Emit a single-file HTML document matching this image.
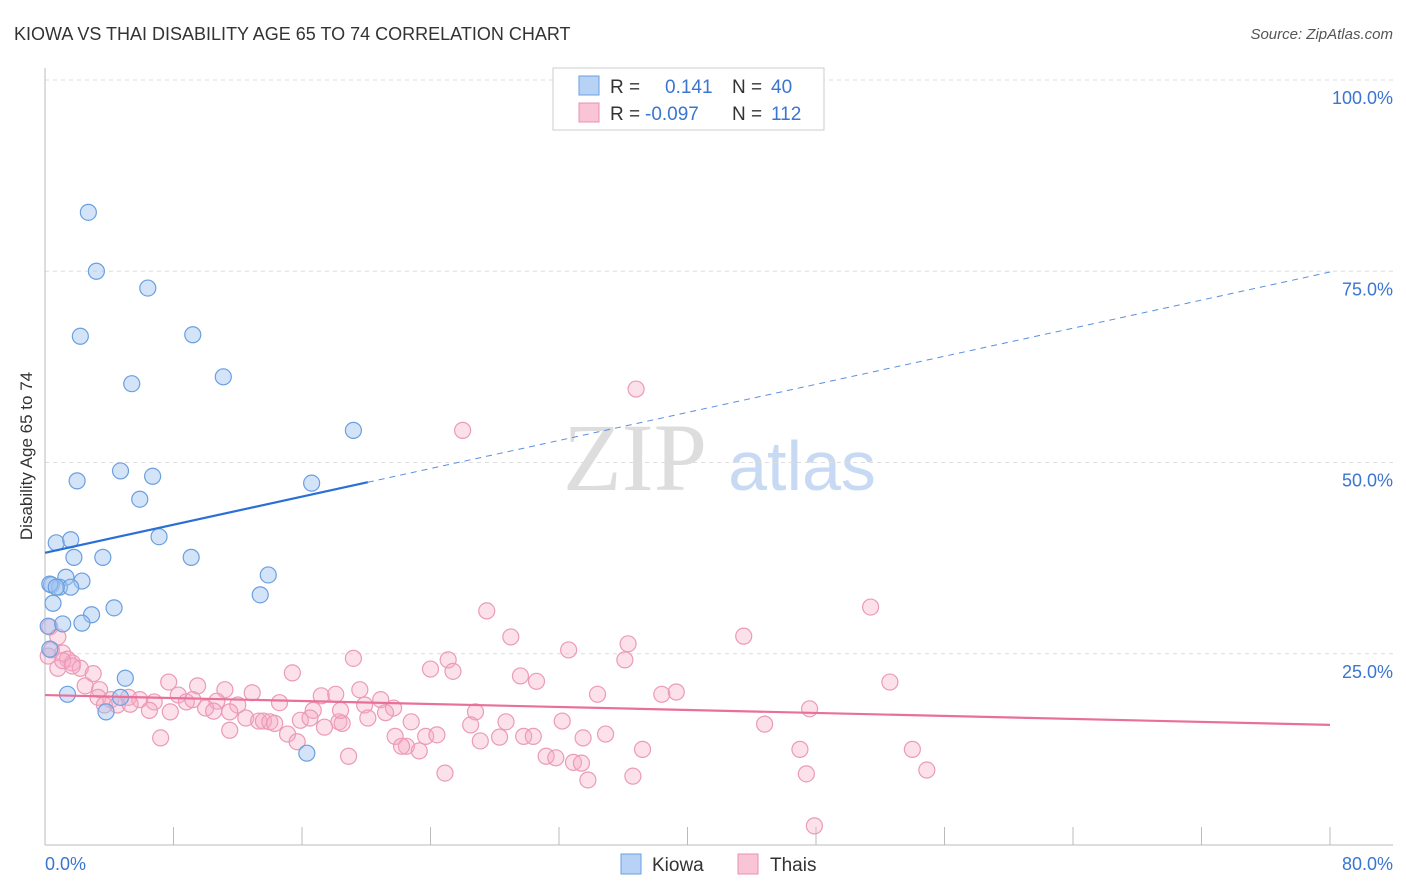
<!DOCTYPE html>
<html><head><meta charset="utf-8">
<style>
body{margin:0;background:#fff;font-family:"Liberation Sans",sans-serif;}
#wrap{position:relative;width:1406px;height:892px;overflow:hidden;}
</style></head>
<body>
<div id="wrap">
<svg id="chart" width="1406" height="892" xmlns="http://www.w3.org/2000/svg">
<text x="14" y="40" font-size="18" fill="#333">KIOWA VS THAI DISABILITY AGE 65 TO 74 CORRELATION CHART</text>
<text x="1393" y="39" font-size="15" fill="#555" font-style="italic" text-anchor="end">Source: ZipAtlas.com</text>
<text x="32" y="456" font-size="17" fill="#333" text-anchor="middle" transform="rotate(-90 32 456)">Disability Age 65 to 74</text>
<g>
<text x="635" y="490" font-size="96" font-family="Liberation Serif,serif" fill="#ddd" text-anchor="middle">ZIP</text>
<text x="802" y="490" font-size="70" fill="#c8daf3" text-anchor="middle">atlas</text>
</g>
<g id="grid"></g><g id="axes"></g><g id="pts"></g><g id="trends"></g>
<g>
<rect x="553" y="68" width="271" height="62" fill="#fff" stroke="#ccc"/>
<rect x="579" y="76" width="20" height="19" fill="#b8d2f5" stroke="#6a9fe0"/>
<rect x="579" y="103" width="20" height="19" fill="#f9c4d6" stroke="#e890b0"/>
<text x="610" y="93" font-size="19" fill="#333">R = </text><text x="665" y="93" font-size="19" fill="#3a75d0">0.141</text>
<text x="732" y="93" font-size="19" fill="#333">N = </text><text x="771" y="93" font-size="19" fill="#3a75d0">40</text>
<text x="610" y="120" font-size="19" fill="#333">R = </text><text x="645" y="120" font-size="19" fill="#3a75d0">-0.097</text>
<text x="732" y="120" font-size="19" fill="#333">N = </text><text x="771" y="120" font-size="19" fill="#3a75d0">112</text>
</g>
<g>
<rect x="621" y="854" width="20" height="20" fill="#b8d2f5" stroke="#6a9fe0"/>
<text x="652" y="871" font-size="19" fill="#333">Kiowa</text>
<rect x="738" y="854" width="20" height="20" fill="#f9c4d6" stroke="#e890b0"/>
<text x="770" y="871" font-size="19" fill="#333">Thais</text>
</g>
</svg>
</div>
<script>
const yTicks=[25,50,75,100];
const yTickLabels=["25.0%","50.0%","75.0%","100.0%"];
const xTicks=[0,8,16,24,32,40,48,56,64,72,80];
const kiowaX=[2.7,3.2,6.4,2.2,9.2,5.4,11.1,19.2,2.0,4.7,6.7,5.9,16.6,0.7,1.6,7.1,1.8,3.6,9.1,0.4,1.3,2.3,0.9,1.6,13.9,0.5,4.3,2.9,13.4,0.2,1.1,2.3,0.3,5.0,1.4,4.7,3.8,16.3,0.3,0.7];
const kiowaY=[82.7,75.0,72.8,66.5,66.7,60.3,61.2,54.2,47.6,48.9,48.2,45.2,47.3,39.5,39.9,40.3,37.6,37.6,37.6,34.0,35.0,34.5,33.7,33.7,35.3,31.6,31.0,30.1,32.7,28.6,28.9,29.0,25.6,21.8,19.7,19.3,17.4,12.0,34.1,33.7];
const thaiX=[36.8,26.0,51.4,27.5,43.5,29.0,32.6,36.3,0.3,0.8,0.4,1.1,1.4,0.2,1.7,2.2,3.0,0.8,2.5,3.4,1.1,1.7,19.2,25.1,24.0,25.4,36.1,15.4,29.6,30.6,9.5,7.7,8.3,11.2,12.9,17.2,18.1,19.6,20.9,34.4,38.4,39.3,47.6,52.6,3.3,4.1,5.2,5.9,6.8,8.8,10.7,12.0,14.6,16.7,19.9,21.7,3.7,4.5,5.3,6.5,7.8,10.0,10.5,11.5,12.5,13.3,13.6,14.0,14.3,15.9,16.5,18.3,20.1,21.2,22.8,26.8,28.7,32.2,44.8,7.2,11.5,15.1,15.7,17.4,18.5,21.8,22.5,23.7,24.4,26.5,27.1,28.3,29.8,30.4,33.5,34.9,37.2,22.2,23.3,31.2,31.8,32.9,33.4,47.0,54.0,18.9,24.9,36.6,33.8,47.4,54.9,47.9,9.2,18.4];
const thaiY=[59.6,54.2,31.1,30.6,27.3,27.2,25.5,26.3,28.5,27.2,25.5,25.1,24.3,24.7,23.8,23.1,22.4,23.1,20.8,20.3,24.1,23.4,24.4,24.2,23.0,22.7,24.2,22.5,22.1,21.4,20.8,21.3,19.6,20.3,19.9,19.5,19.7,20.3,19.0,19.7,19.7,20.0,17.8,21.3,19.3,19.0,19.3,19.0,18.7,18.7,18.8,18.3,18.6,17.6,18.3,17.9,18.3,18.3,18.4,17.6,17.4,17.9,17.5,17.4,16.6,16.2,16.2,16.1,15.9,16.3,16.6,16.1,16.6,17.3,16.1,17.4,16.1,16.2,15.8,14.0,15.0,14.5,13.5,15.4,15.9,14.2,12.9,14.2,14.4,15.7,13.6,14.1,14.2,14.2,14.0,14.5,12.5,12.9,12.3,11.6,11.4,10.8,10.7,12.5,12.5,11.6,9.4,9.0,8.5,9.3,9.8,2.5,19.0,17.6];
const kiowaTrend=[38.2,74.9]; // y at x=0 and x=80
const kiowaSolidEnd=20.1;
const thaiTrend=[19.6,15.7];
const NS="http://www.w3.org/2000/svg";
const X0=45,X1=1330,Y0=845,Y100=80;
const sx=v=>X0+(X1-X0)*v/80;
const sy=v=>Y0-(Y0-Y100)*v/100;
function mk(tag,attrs,parent){const e=document.createElementNS(NS,tag);for(const k in attrs)e.setAttribute(k,attrs[k]);document.getElementById(parent).appendChild(e);return e;}
yTicks.forEach((t,i)=>{
  const l=mk('line',{x1:X0,x2:1393,y1:sy(t),y2:sy(t),stroke:'#ddd','stroke-dasharray':'4,4'},'grid');
  
  
  const tx=mk('text',{x:1393,y:sy(t)+24,'font-size':18,fill:'#3a75d0','text-anchor':'end'},'grid');
  tx.textContent=yTickLabels[i];
  
  
});
let a=mk('line',{x1:X0,x2:X0,y1:68,y2:Y0,stroke:'#bbb'},'axes');


a=mk('line',{x1:X0,x2:1393,y1:Y0,y2:Y0,stroke:'#bbb'},'axes');


xTicks.forEach(t=>{const l=mk('line',{x1:sx(t),x2:sx(t),y1:Y0,y2:Y0-18+30,stroke:'#bbb'},'axes');
  l.setAttribute('y1',Y0-18);l.setAttribute('y2',Y0);
  
  });
let t0=mk('text',{x:45,y:870,'font-size':18,fill:'#3a75d0'},'axes');t0.textContent='0.0%';


let t1=mk('text',{x:1393,y:870,'font-size':18,fill:'#3a75d0','text-anchor':'end'},'axes');t1.textContent='80.0%';


thaiX.forEach((x,i)=>{const c=mk('circle',{cx:sx(x),cy:sy(thaiY[i]),r:8,fill:'rgba(245,170,195,0.35)',stroke:'#eb9ab8','stroke-width':1.2},'pts');
  
  });
kiowaX.forEach((x,i)=>{const c=mk('circle',{cx:sx(x),cy:sy(kiowaY[i]),r:8,fill:'rgba(160,195,240,0.45)',stroke:'#6a9fe0','stroke-width':1.2},'pts');
  
  });
const ky=x=>kiowaTrend[0]+(kiowaTrend[1]-kiowaTrend[0])*x/80;
let k1=mk('line',{x1:sx(0),y1:sy(ky(0)),x2:sx(kiowaSolidEnd),y2:sy(ky(kiowaSolidEnd)),stroke:'#2a6fd6','stroke-width':2.2},'trends');


let k2=mk('line',{x1:sx(kiowaSolidEnd),y1:sy(ky(kiowaSolidEnd)),x2:sx(80),y2:sy(ky(80)),stroke:'#5a8fe0','stroke-width':1,'stroke-dasharray':'6,5'},'trends');


let p1=mk('line',{x1:sx(0),y1:sy(thaiTrend[0]),x2:sx(80),y2:sy(thaiTrend[1]),stroke:'#e8709a','stroke-width':2.2},'trends');


</script>
</body></html>
